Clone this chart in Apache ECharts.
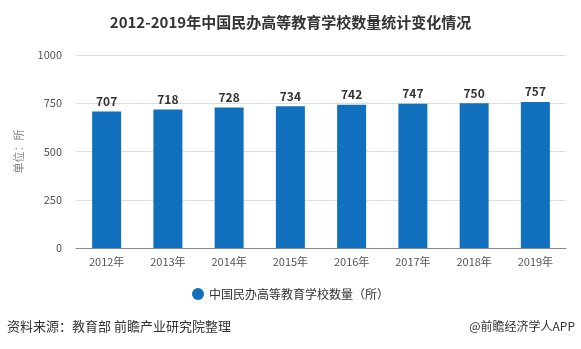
<!DOCTYPE html>
<html><head><meta charset="utf-8">
<script src="https://cdn.jsdelivr.net/npm/echarts@6/dist/echarts.min.js"></script>
<style>html,body{margin:0;padding:0;background:#fff}#c{width:581px;height:349px}</style>
</head><body><div id="c"></div>
<script>
const categories = ['2012年','2013年','2014年','2015年','2016年','2017年','2018年','2019年'];
const values = [707, 718, 728, 734, 742, 747, 750, 757];
const seriesName = '中国民办高等教育学校数量（所）';
const chart = echarts.init(document.getElementById('c'));
const ff = '"Noto Sans CJK SC", sans-serif';
chart.setOption({
  animation: false,
  title: {
    text: '2012-2019年中国民办高等教育学校数量统计变化情况',
    left: 'center', top: 10,
    textStyle: {fontFamily: ff, fontSize: 15, fontWeight: 'bold', color: '#333'}
  },
  legend: {
    data: [seriesName], bottom: 44, left: 'center', icon: 'circle',
    itemWidth: 12, itemHeight: 12,
    textStyle: {fontFamily: ff, fontSize: 12, color: '#333'}
  },
  graphic: [
    {type: 'text', left: 7, top: 320, style: {text: '资料来源：教育部 前瞻产业研究院整理', font: '13px ' + ff, fill: '#333'}},
    {type: 'text', right: 6, top: 320, style: {text: '@前瞻经济学人APP', font: '12px ' + ff, fill: '#333'}}
  ],
  grid: {left: 76, right: 15, top: 55, bottom: 101, containLabel: false},
  xAxis: {
    type: 'category', data: categories,
    axisLine: {lineStyle: {color: '#888'}},
    axisTick: {alignWithLabel: true, lineStyle: {color: '#888'}},
    axisLabel: {fontFamily: ff, fontSize: 11, color: '#555', margin: 8}
  },
  yAxis: {
    type: 'value', min: 0, max: 1000, interval: 250,
    name: '单位：所', nameLocation: 'middle', nameGap: 52,
    nameTextStyle: {fontFamily: ff, fontSize: 11, color: '#888'},
    axisLine: {show: false}, axisTick: {show: false},
    axisLabel: {fontFamily: ff, fontSize: 11, color: '#555', margin: 14, formatter: v => String(v)},
    splitLine: {lineStyle: {color: '#ddd'}}
  },
  series: [{
    name: seriesName, type: 'bar', data: values, barWidth: 29,
    itemStyle: {color: '#1070be'},
    label: {show: true, position: 'top', distance: 4, fontFamily: ff, fontSize: 12, fontWeight: 'bold', color: '#333'}
  }]
});
</script></body></html>
